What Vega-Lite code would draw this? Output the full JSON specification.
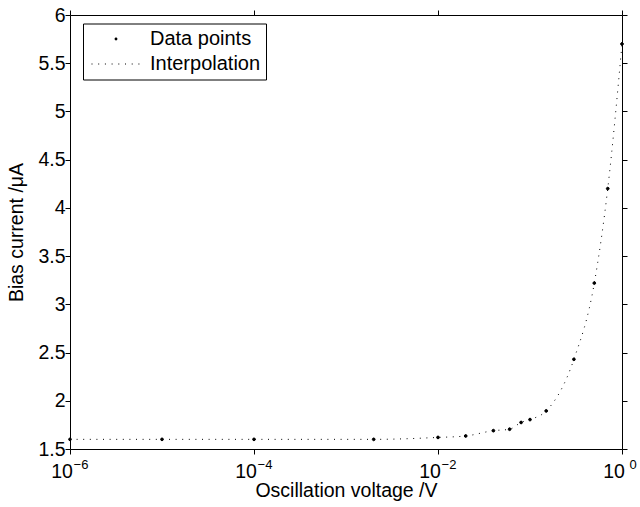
{
  "$schema": "https://vega.github.io/schema/vega-lite/v6.json",
  "width": 552,
  "height": 434,
  "autosize": {"type": "none"},
  "padding": {"left": 70, "top": 15, "right": 18, "bottom": 58},
  "background": "white",
  "config": {
    "view": {"stroke": null},
    "font": "Liberation Sans",
    "axis": {
      "grid": false,
      "domainColor": "black",
      "domainWidth": 1,
      "tickColor": "black",
      "tickWidth": 1,
      "tickSize": 5,
      "labelColor": "black",
      "labelFont": "Liberation Sans",
      "labelFontSize": 19.5,
      "titleColor": "black",
      "titleFont": "Liberation Sans",
      "titleFontSize": 19.5,
      "titleFontWeight": "normal"
    }
  },
  "data": {
    "values": [
      {"v": 0.000001, "i": 1.6},
      {"v": 0.00001, "i": 1.6},
      {"v": 0.0001, "i": 1.6},
      {"v": 0.002, "i": 1.6},
      {"v": 0.01, "i": 1.62},
      {"v": 0.02, "i": 1.635},
      {"v": 0.04, "i": 1.69},
      {"v": 0.06, "i": 1.705},
      {"v": 0.08, "i": 1.775},
      {"v": 0.1, "i": 1.805},
      {"v": 0.15, "i": 1.895},
      {"v": 0.3, "i": 2.43},
      {"v": 0.5, "i": 3.22},
      {"v": 0.7, "i": 4.2},
      {"v": 1, "i": 5.7}
    ]
  },
  "layer": [
    {
      "mark": {"type": "line", "interpolate": "monotone", "stroke": "black", "strokeWidth": 1, "strokeDash": [1, 5.6]},
      "encoding": {
        "x": {
          "field": "v", "type": "quantitative",
          "scale": {"type": "log", "domain": [0.000001, 1], "nice": false},
          "axis": {
            "orient": "bottom",
            "values": [0.000001, 0.0001, 0.01, 1],
            "labelExpr": "'10'",
            "labelPadding": 8,
            "labelFlush": false,
            "labelOffset": -8.5,
            "title": "Oscillation voltage /V",
            "titlePadding": 1,
            "encode": {"ticks": {"update": {"y2": {"value": -5}}}}
          }
        },
        "y": {
          "field": "i", "type": "quantitative",
          "scale": {"domain": [1.5, 6], "nice": false, "zero": false},
          "axis": {
            "orient": "left",
            "values": [1.5, 2, 2.5, 3, 3.5, 4, 4.5, 5, 5.5, 6],
            "format": "~g",
            "labelPadding": 0,
            "labelFlush": false,
            "title": "Bias current /μA",
            "titlePadding": 11,
            "encode": {"ticks": {"update": {"x2": {"value": 5}}}}
          }
        }
      }
    },
    {
      "mark": {"type": "point", "filled": true, "color": "black", "stroke": "black", "strokeWidth": 1, "size": 400, "opacity": 1},
      "encoding": {
        "x": {
          "field": "v", "type": "quantitative",
          "scale": {"type": "log", "domain": [0.000001, 1], "nice": false},
          "axis": {
            "orient": "top", "values": [0.000001, 0.0001, 0.01, 1], "labels": false, "title": null,
            "encode": {"ticks": {"update": {"y2": {"value": 5}}}}
          }
        },
        "y": {
          "field": "i", "type": "quantitative",
          "scale": {"domain": [1.5, 6], "nice": false, "zero": false},
          "axis": {
            "orient": "right", "values": [1.5, 2, 2.5, 3, 3.5, 4, 4.5, 5, 5.5, 6], "labels": false, "title": null,
            "encode": {"ticks": {"update": {"x2": {"value": -5}}}}
          }
        },
        "shape": {
          "datum": "Data points",
          "scale": {
            "domain": ["Data points", "Interpolation"],
            "range": [
              "M-0.14,0A0.14,0.14,0,1,1,0.14,0A0.14,0.14,0,1,1,-0.14,0Z",
              "M-2.45,-0.05h0.1v0.1h-0.1ZM-1.78,-0.05h0.1v0.1h-0.1ZM-1.11,-0.05h0.1v0.1h-0.1ZM-0.44,-0.05h0.1v0.1h-0.1ZM0.23,-0.05h0.1v0.1h-0.1ZM0.9,-0.05h0.1v0.1h-0.1ZM1.57,-0.05h0.1v0.1h-0.1ZM2.24,-0.05h0.1v0.1h-0.1Z"
            ]
          },
          "legend": {
            "orient": "none",
            "legendX": 13,
            "legendY": 8.5,
            "title": null,
            "strokeColor": "black",
            "fillColor": "white",
            "padding": 5,
            "rowPadding": 4,
            "symbolSize": 400,
            "symbolOffset": 17.5,
            "labelOffset": 23.5,
            "symbolFillColor": "black",
            "symbolStrokeColor": "black",
            "symbolStrokeWidth": 1,
            "symbolOpacity": 1,
            "labelFont": "Liberation Sans",
            "labelFontSize": 20,
            "labelColor": "black"
          }
        }
      }
    },
    {
      "mark": {"type": "point", "opacity": 0},
      "encoding": {
        "x": {
          "field": "v", "type": "quantitative",
          "scale": {"type": "log", "domain": [0.000001, 1], "nice": false},
          "axis": {
            "orient": "bottom",
            "values": [0.000001, 0.0001, 0.01, 1],
            "labelExpr": "datum.value < 0.00001 ? '−6' : datum.value < 0.001 ? '−4' : datum.value < 0.1 ? '−2' : '0'",
            "labelFontSize": 13,
            "labelPadding": 9.3,
            "labelOffset": 10.5,
            "labelFlush": false,
            "ticks": false,
            "tickSize": 0,
            "domain": false,
            "title": null
          }
        },
        "y": {
          "field": "i", "type": "quantitative",
          "scale": {"domain": [1.5, 6], "nice": false, "zero": false},
          "axis": null
        }
      }
    }
  ],
  "resolve": {"axis": {"x": "independent", "y": "independent"}}
}
